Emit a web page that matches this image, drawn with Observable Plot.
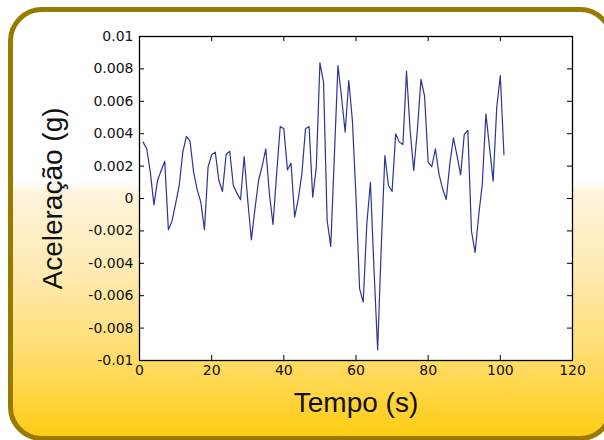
<!DOCTYPE html>
<html>
<head>
<meta charset="utf-8">
<script src="https://cdn.jsdelivr.net/npm/d3@7"></script>
<script src="https://cdn.jsdelivr.net/npm/@observablehq/plot@0.6"></script>
<style>
  html, body { margin: 0; padding: 0; background: #ffffff; }
  #wrap { position: relative; width: 604px; height: 440px; overflow: hidden; }
  #card {
    position: absolute; left: 8px; top: 7px; width: 606px; height: 434px;
    box-sizing: border-box; border: 5px solid #977a00; border-radius: 34px;
    background: linear-gradient(to bottom, #ffffff 0%, #ffffff 40%, #fff4dc 42.5%, #ffeab0 62%, #ffdc68 82%, #ffcc14 100%);
  }
  #chart { position: absolute; left: 0; top: 0; }
</style>
</head>
<body>
<div id="wrap"><div id="card"></div><div id="chart"></div></div>
<script>
const tempo = [1,2,3,4,5,6,7,8,9,10,11,12,13,14,15,16,17,18,19,20,
  21,22,23,24,25,26,27,28,29,30,31,32,33,34,35,36,37,38,39,40,
  41,42,43,44,45,46,47,48,49,50,51,52,53,54,55,56,57,58,59,60,
  61,62,63,64,65,66,67,68,69,70,71,72,73,74,75,76,77,78,79,80,
  81,82,83,84,85,86,87,88,89,90,91,92,93,94,95,96,97,98,99,100,101];
const aceleracao = [
  0.00348, 0.00307, 0.00163, -0.00039, 0.00111, 0.00173, 0.00230, -0.00193, -0.00140, -0.00033,
  0.00080, 0.00286, 0.00383, 0.00354, 0.00163, 0.00053, -0.00023, -0.00193, 0.00193, 0.00270,
  0.00286, 0.00111, 0.00043, 0.00272, 0.00292, 0.00080, 0.00033, -0.00008, 0.00259, -0.00012,
  -0.00255, -0.00064, 0.00111, 0.00200, 0.00307, 0.00029, -0.00160, 0.00152, 0.00444, 0.00430,
  0.00177, 0.00218, -0.00115, -0.00002, 0.00152, 0.00430, 0.00444, 0.00008, 0.00193, 0.00837,
  0.00718, -0.00136, -0.00296, 0.00260, 0.00821, 0.00625, 0.00409, 0.00728, 0.00481, 0.00008,
  -0.00558, -0.00640, -0.00156, 0.00100, -0.00444, -0.00934, -0.00300, 0.00265, 0.00080, 0.00043,
  0.00399, 0.00348, 0.00333, 0.00786, 0.00420, 0.00173, 0.00420, 0.00736, 0.00633, 0.00224,
  0.00196, 0.00307, 0.00150, 0.00060, -0.00006, 0.00214, 0.00374, 0.00265, 0.00146, 0.00395,
  0.00420, -0.00202, -0.00333, -0.00105, 0.00090, 0.00523, 0.00317, 0.00107, 0.00560, 0.00759,
  0.00270];
const xTicks = [0, 20, 40, 60, 80, 100, 120];
const xTickLabels = ["0", "20", "40", "60", "80", "100", "120"];
const yTicks = [-0.01, -0.008, -0.006, -0.004, -0.002, 0, 0.002, 0.004, 0.006, 0.008, 0.01];
const yTickLabels = ["-0.01", "-0.008", "-0.006", "-0.004", "-0.002", "0", "0.002", "0.004", "0.006", "0.008", "0.01"];
const xLabel = "Tempo (s)";
const yLabel = "Aceleração (g)";

const data = tempo.map((t, i) => ({t, a: aceleracao[i]}));
const tickFont = "DejaVu Sans, sans-serif";
const labelFont = "Liberation Sans, Arial, sans-serif";

const chart = Plot.plot({
  width: 604,
  height: 440,
  marginLeft: 139,
  marginRight: 32,
  marginTop: 36,
  marginBottom: 80,
  style: {background: "transparent", fontFamily: tickFont, color: "#111"},
  x: {domain: [0, 120], ticks: xTicks},
  y: {domain: [-0.01, 0.01], ticks: yTicks},
  marks: [
    Plot.frame({fill: "white", stroke: "none"}),
    Plot.line(data, {x: "t", y: "a", stroke: "#2b3595", strokeWidth: 1.2}),
    Plot.tickX(xTicks, {x: d => d, insetTop: 319, stroke: "#000"}),
    Plot.tickX(xTicks, {x: d => d, insetBottom: 319, stroke: "#000"}),
    Plot.tickY(yTicks, {y: d => d, insetRight: 428, stroke: "#000"}),
    Plot.tickY(yTicks, {y: d => d, insetLeft: 428, stroke: "#000"}),
    Plot.frame({stroke: "#000", strokeWidth: 1.3}),
    Plot.axisX({ticks: xTicks, tickSize: 0, tickPadding: 5, fontSize: 14, label: null,
      tickFormat: d => xTickLabels[xTicks.indexOf(d)]}),
    Plot.axisY({ticks: yTicks, tickSize: 0, tickPadding: 6, fontSize: 14, label: null,
      tickFormat: d => yTickLabels[yTicks.findIndex(v => Math.abs(v - d) < 1e-9)]}),
    Plot.text([xLabel], {text: d => d, frameAnchor: "bottom", dy: 43, fontSize: 28,
      fontFamily: labelFont, fill: "#111", lineAnchor: "middle"}),
    Plot.text([yLabel], {text: d => d, frameAnchor: "left", dx: -86, rotate: -90, fontSize: 28,
      fontFamily: labelFont, fill: "#111", textAnchor: "middle", lineAnchor: "middle"})
  ]
});
document.getElementById("chart").appendChild(chart);
</script>
</body>
</html>
